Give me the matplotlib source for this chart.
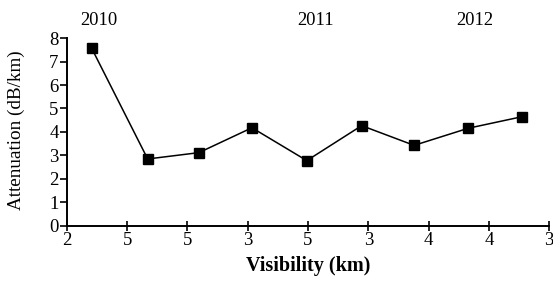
import matplotlib
matplotlib.use('Agg')
from matplotlib import pyplot as plt

# tick labels along the x axis (visibility, km)
tick_labels = ['2', '5', '5', '3', '5', '3', '4', '4', '3']
# point positions along the x axis and attenuation values
point_x = [0.41, 1.34, 2.19, 3.07, 3.98, 4.89, 5.76, 6.66, 7.55]
attenuation = [7.57, 2.85, 3.12, 4.18, 2.78, 4.27, 3.43, 4.16, 4.65]
years = ['2010', '2011', '2012']
year_x = [0.53, 4.12, 6.76]

plt.rcParams['font.family'] = 'Liberation Serif'

fig = plt.figure(figsize=(5.53, 2.82), dpi=100)
ax = fig.add_axes([0.121, 0.199, 0.872, 0.666])

ax.plot(point_x, attenuation, color='black', linewidth=1.1,
        marker='s', markersize=7.5, markerfacecolor='black', clip_on=False)

ax.set_xlim(0, 8)
ax.set_ylim(0, 8)
ax.set_xticks(range(len(tick_labels)))
ax.set_xticklabels(tick_labels)
ax.set_yticks(range(0, 9))

ax.spines['top'].set_visible(False)
ax.spines['right'].set_visible(False)
ax.spines['left'].set_linewidth(1.4)
ax.spines['bottom'].set_linewidth(1.4)
ax.tick_params(axis='y', direction='out', length=5, width=1.2, labelsize=13.5, pad=1)
ax.tick_params(axis='x', direction='inout', length=7, width=1.2, labelsize=13.5, pad=1)

ax.set_xlabel('Visibility (km)', fontsize=14.5, fontweight='bold', labelpad=5)
ax.set_ylabel('Attenuation (dB/km)', fontsize=13.8, va='center')
ax.yaxis.set_label_coords(-0.104, 0.51)

for yx, yr in zip(year_x, years):
    ax.text(yx, 1.05, yr, transform=ax.get_xaxis_transform(), ha='center',
            va='bottom', fontsize=13.3)

plt.savefig('out.png', dpi=100)
